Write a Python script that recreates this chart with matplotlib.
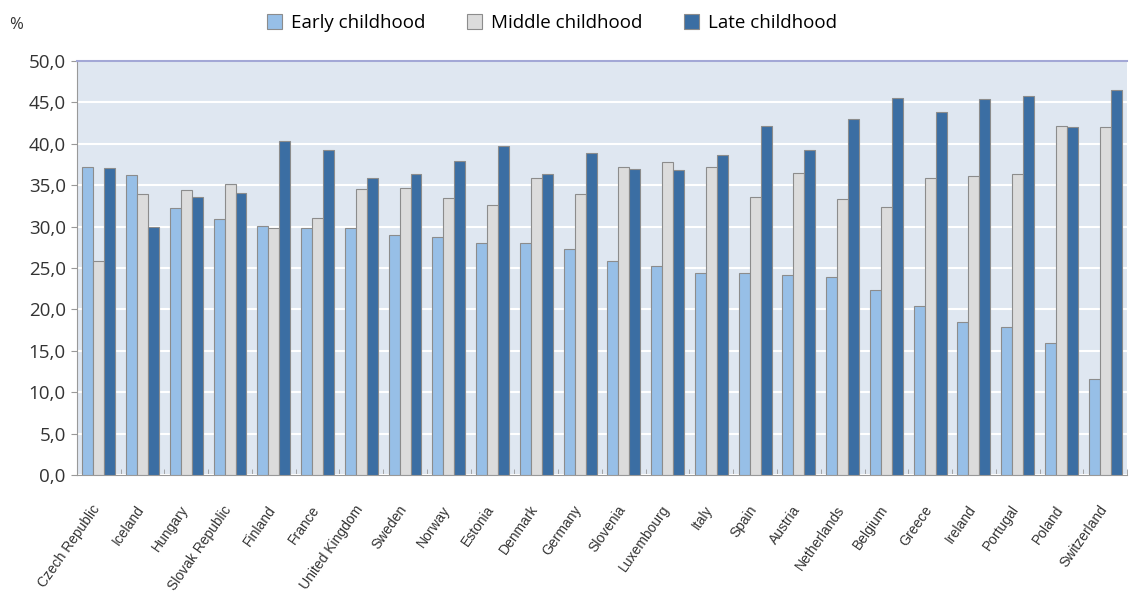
import matplotlib
matplotlib.use("Agg")
import matplotlib.pyplot as plt
import matplotlib.transforms as mtransforms
import numpy as np

countries = ["Czech Republic", "Iceland", "Hungary", "Slovak Republic", "Finland", "France",
             "United Kingdom", "Sweden", "Norway", "Estonia", "Denmark", "Germany", "Slovenia",
             "Luxembourg", "Italy", "Spain", "Austria", "Netherlands", "Belgium", "Greece",
             "Ireland", "Portugal", "Poland", "Switzerland"]
early = [37.2, 36.3, 32.2, 30.9, 30.1, 29.8, 29.8, 29.0, 28.8, 28.0, 28.0, 27.3, 25.9,
         25.3, 24.4, 24.4, 24.2, 23.9, 22.3, 20.4, 18.5, 17.9, 16.0, 11.6]
middle = [25.9, 34.0, 34.4, 35.2, 29.8, 31.1, 34.6, 34.7, 33.5, 32.6, 35.9, 33.9, 37.2,
          37.8, 37.2, 33.6, 36.5, 33.4, 32.4, 35.9, 36.1, 36.4, 42.2, 42.0]
late = [37.1, 29.9, 33.6, 34.1, 40.3, 39.3, 35.9, 36.4, 37.9, 39.7, 36.4, 38.9, 37.0,
        36.9, 38.6, 42.2, 39.3, 43.0, 45.5, 43.8, 45.4, 45.8, 42.0, 46.5]
series_names = ["Early childhood", "Middle childhood", "Late childhood"]
yticks = [0, 5, 10, 15, 20, 25, 30, 35, 40, 45, 50]

colors = ["#97bfe7", "#dcdcdc", "#3b6ea3"]

fig = plt.figure(figsize=(11.31, 5.99), dpi=100)
ax = fig.add_axes([0.068, 0.207, 0.9285, 0.691])

x = np.arange(len(countries))
w = 0.25
bars = []
for i, (vals, c, name) in enumerate(zip([early, middle, late], colors, series_names)):
    b = ax.bar(x + (i - 1) * w, vals, width=w, color=c, edgecolor="#8c8c8c",
               linewidth=0.8, label=name, zorder=3)
    bars.append(b)

ax.set_xlim(-0.5, len(countries) - 0.5)
ax.set_ylim(0, 50)
ax.set_facecolor("#dfe7f1")
ax.set_yticks(yticks)
ax.set_yticklabels([f"{v:.1f}".replace(".", ",") for v in yticks],
                   fontsize=13.5, color="#333333", family="Open Sans")
ax.yaxis.grid(True, color="white", linewidth=1.5, zorder=1)
ax.set_axisbelow(True)

ax.set_xticks(x)
ax.set_xticklabels(countries, rotation=55, ha="right", rotation_mode="anchor",
                   fontsize=10, color="#333333", family="Liberation Sans")
ax.tick_params(axis="x", length=0, pad=20)
offset = mtransforms.ScaledTranslation(-0.07, 0, fig.dpi_scale_trans)
for lbl in ax.get_xticklabels():
    lbl.set_transform(lbl.get_transform() + offset)
ax.set_xticks(np.arange(len(countries) + 1) - 0.5, minor=True)
ax.tick_params(axis="x", which="minor", length=4, direction="in", color="#999999")
ax.tick_params(axis="y", length=4, color="#999999", pad=4)

for s in ["left", "bottom"]:
    ax.spines[s].set_color("#999999")
ax.spines["right"].set_visible(False)
ax.spines["top"].set_color("#a3a8d6")
ax.spines["top"].set_linewidth(1.5)

fig.text(0.008, 0.958, "%", fontsize=12, color="#333333", family="Open Sans", va="center")
leg = fig.legend(handles=bars, labels=series_names, loc="center", bbox_to_anchor=(0.488, 0.962),
                 ncol=3, frameon=False, handlelength=0.8, handleheight=0.9,
                 columnspacing=2.2, handletextpad=0.5, prop={"family": "Open Sans", "size": 13.5})

fig.savefig("out.png", dpi=100)
